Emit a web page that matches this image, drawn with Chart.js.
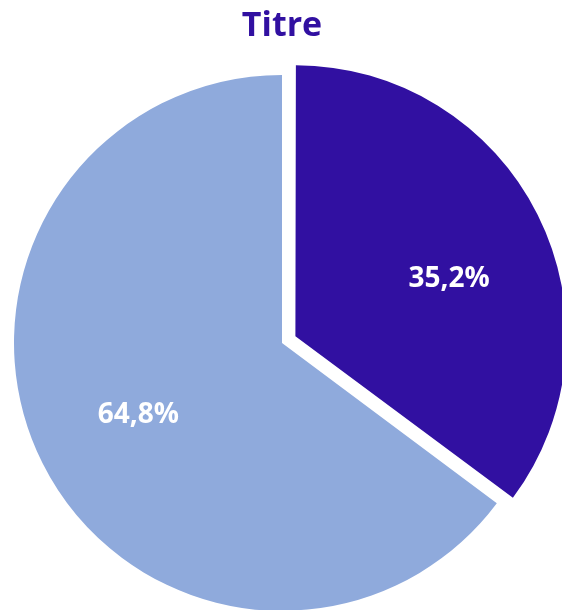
<!DOCTYPE html>
<html>
<head>
<meta charset="utf-8">
<script src="https://cdn.jsdelivr.net/npm/chart.js@4/dist/chart.umd.min.js"></script>
<style>
	html, body { margin: 0; padding: 0; background: #fff; }
	#wrap { width: 562px; height: 610px; overflow: hidden; }
	#inner { width: 562px; height: 639px; position: relative; }
</style>
</head>
<body>
<div id="wrap"><div id="inner"><canvas id="pie"></canvas></div></div>
<script>
// data
const chartTitle = "Titre";
const labels = ["A", "B"];
const values = [35.2, 64.8];
const sliceColors = ["#3110a1", "#8faadc"];
const sliceOffsets = [60, 0];

// white percentage labels inside the slices
const pctLabels = {
	id: "pctLabels",
	afterDatasetsDraw(chart) {
		const ctx = chart.ctx;
		const meta = chart.getDatasetMeta(0);
		const total = values.reduce((a, b) => a + b, 0);
		ctx.save();
		ctx.font = "bold 28px 'Open Sans'";
		ctx.fillStyle = "#ffffff";
		ctx.textAlign = "center";
		ctx.textBaseline = "middle";
		meta.data.forEach((arc, i) => {
			const p = arc.getProps(["x", "y", "startAngle", "endAngle", "outerRadius", "circumference"], true);
			// excel leans the small slice label a bit lower than the bisector
			const mid = (p.startAngle + p.endAngle) / 2 + (i == 0 ? 0.1 : 0);
			let off = (sliceOffsets[i] || 0) / 4;
			const fix = 1 - Math.sin(Math.min(Math.PI, p.circumference || 0));
			off = off + off * fix;
			const r = p.outerRadius * 0.6 + off;
			const x = p.x + Math.cos(mid) * r;
			const y = p.y + Math.sin(mid) * r;
			const txt = (values[i] / total * 100).toFixed(1).replace(".", ",") + "%";
			ctx.fillText(txt, x, y);
		});
		ctx.restore();
	}
};

new Chart("pie", {
	type: "pie",
	data: {
		labels: labels,
		datasets: [
			{
				data: values,
				backgroundColor: sliceColors,
				borderWidth: 0,
				offset: sliceOffsets,
				radius: 268,
				clip: false,
			},
		],
	},
	options: {
		responsive: true,
		maintainAspectRatio: false,
		animation: false,
		layout: {
			padding: { left: 2, right: 0, top: 0, bottom: 0 },
		},
		plugins: {
			legend: { display: false },
			tooltip: { enabled: false },
			title: {
				display: true,
				text: chartTitle,
				color: "#3110a1",
				font: { family: "'Open Sans'", size: 34, weight: "bold" },
				padding: { top: 6, bottom: 0 },
			},
		},
	},
	plugins: [pctLabels],
});
</script>
</body>
</html>
